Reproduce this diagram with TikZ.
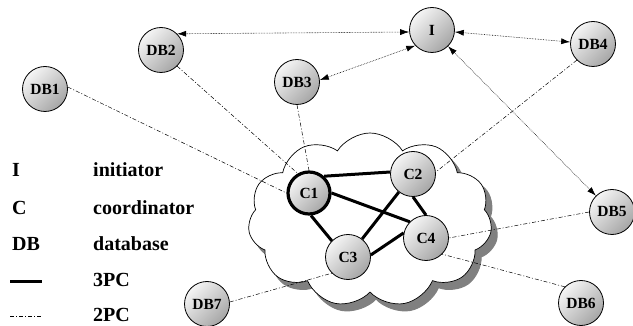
\documentclass[tikz,border=0pt]{standalone}
\usepackage{fontspec}
\setmainfont{Liberation Serif}[BoldFont={Liberation Serif Bold}]
\usetikzlibrary{shapes.symbols,arrows.meta}
\definecolor{cloudshade}{gray}{0.5}
\begin{document}
\begin{tikzpicture}[x=1pt,y=-1pt,
  site/.style={circle, draw=black, line width=0.8pt, minimum size=45pt,
    inner sep=0pt, top color=gray!8, bottom color=gray!70, shading angle=45,
    font=\fontsize{15.5}{17}\selectfont\bfseries},
  coord/.style={site, minimum size=42pt, line width=3.2pt},
  legend/.style={anchor=west, inner sep=0pt, font=\fontsize{20}{22}\selectfont\bfseries},
  threepc/.style={line width=3pt},
  twopc/.style={line width=0.5pt, dash pattern=on 4pt off 2pt on 1pt off 2pt},
  invite/.style={line width=0.6pt, densely dotted,
    {Latex[length=9pt,width=6pt]}-{Latex[length=9pt,width=6pt]}},
  netcloud/.style={cloud, cloud puffs=11, cloud puff arc=115, aspect=1.45,
    minimum width=244pt, minimum height=174pt}
]
\useasboundingbox (0,0) rectangle (633,326);

% network cloud holding the coordinators, with its shadow
\node[netcloud, draw=cloudshade, fill=cloudshade, line width=1pt] (netshadow) at (376,227) {};
\node[netcloud, draw, fill=white, line width=0.7pt] (net) at (370,220) {};

% databases and initiator
\node[site] (I)   at (432,30)  {I};
\node[site] (DB1) at (45,89)   {DB1};
\node[site] (DB2) at (161,50)  {DB2};
\node[site] (DB3) at (297,82)  {DB3};
\node[site] (DB4) at (593,44)  {DB4};
\node[site] (DB5) at (612,212) {DB5};
\node[site] (DB6) at (581,303) {DB6};
\node[site] (DB7) at (207,304) {DB7};

% coordinators
\node[coord] (C1) at (309,193) {C1};
\node[site]  (C2) at (413,174) {C2};
\node[site]  (C3) at (348,257) {C3};
\node[site]  (C4) at (426,238) {C4};

% 2PC links between databases and coordinators
\draw[twopc] (DB1.5)     -- (C1.west);
\draw[twopc] (DB2.-45)   -- (C1.120);
\draw[twopc] (DB3.south) -- (C1.north);
\draw[twopc] (DB4.225)   -- (C2.5);
\draw[twopc] (DB5.west)  -- (C4.east);
\draw[twopc] (DB6.135)   -- (C4.-45);
\draw[twopc] (DB7.5)     -- (C3.225);

% 3PC links among coordinators
\draw[threepc] (C1.48)    -- (C2.175);
\draw[threepc] (C1.east)  -- (C4.135);
\draw[threepc] (C1.-85)   -- (C3.135);
\draw[threepc] (C2)       -- (C3);
\draw[threepc] (C2.south) -- (C4.north);
\draw[threepc] (C3.5)     -- (C4.167);

% initiator invitations
\draw[invite] (DB2.45) -- (I.185);
\draw[invite] (I) -- (DB4);
\draw[invite] (I.223) -- (DB3.5);
\draw[invite] (I) -- (DB5);

% legend
\node[legend] (kI)  at (12,170) {I};
\node[legend] (kC)  at (12,208) {C};
\node[legend] (kDB) at (12,244) {DB};
\node[legend] (tI)  at (93,170) {initiator};
\node[legend] (tC)  at (93,208) {coordinator};
\node[legend] (tDB) at (93,244) {database};
\node[legend] (t3)  at (93,280) {3PC};
\node[legend] (t2)  at (93,315) {2PC};
\coordinate (a3) at (10,282);
\coordinate (b3) at (42,282);
\coordinate (a2) at (10,316);
\coordinate (b2) at (42,316);
\draw[threepc] (a3) -- (b3);
\draw[twopc] (a2) -- (b2);
\end{tikzpicture}
\end{document}
